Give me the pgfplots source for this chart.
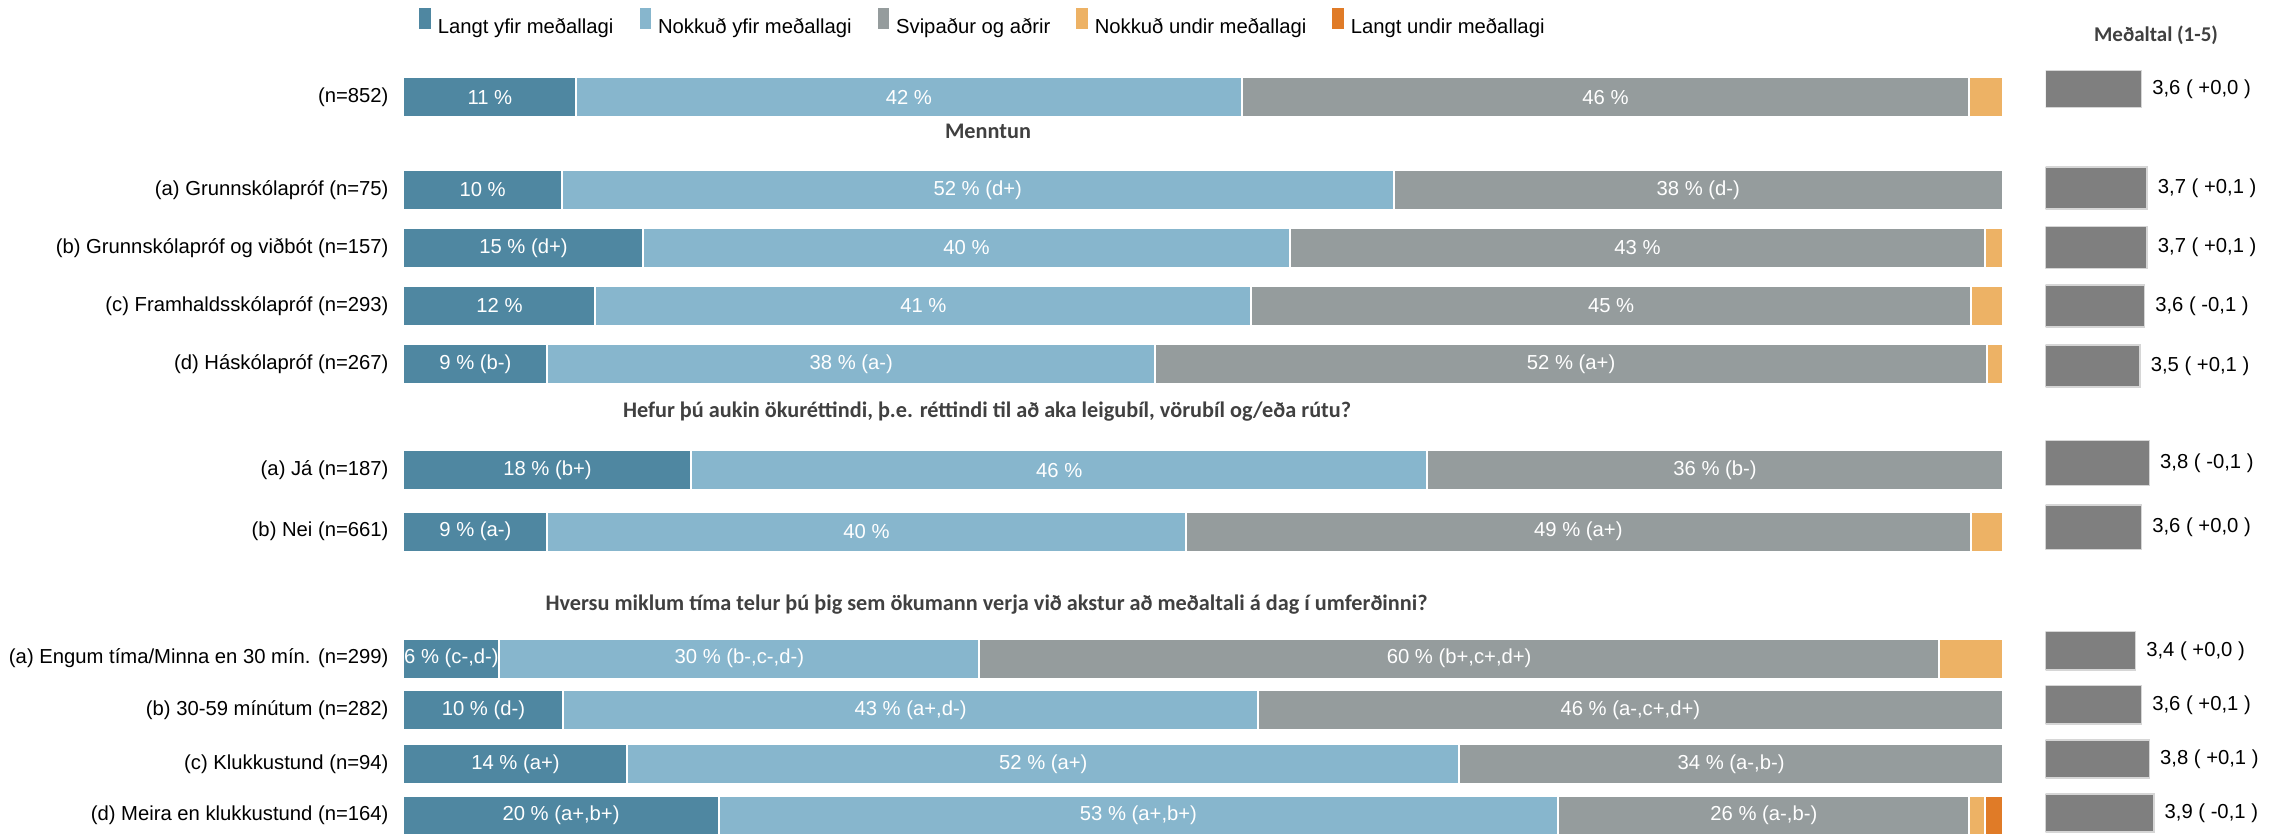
\documentclass[border=0pt]{standalone}
\usepackage{fontspec}
\setmainfont{Liberation Sans}
\newfontfamily\headfont{Carlito}
\usepackage{pgfplots}
\usepackage{pgfplotstable}
\pgfplotsset{compat=1.18}

\definecolor{c1}{HTML}{4F87A1}
\definecolor{c2}{HTML}{87B6CD}
\definecolor{c3}{HTML}{959C9D}
\definecolor{c4}{HTML}{EDB265}
\definecolor{c5}{HTML}{E07B27}
\definecolor{meanc}{HTML}{7F7F7F}
\definecolor{meanb}{HTML}{D6D6D6}
\definecolor{headc}{HTML}{404040}

\pgfplotstableread[col sep=semicolon]{
y;v1;v2;v3;v4;v5
97.3;10.8;41.6;45.5;2.1;0
190;9.9;52.0;38.1;0;0
248;15.0;40.4;43.5;1.1;0
305.7;12.0;41.0;45.0;2.0;0
364;9.0;38.0;52.0;1.0;0
470.3;18.0;46.0;36.0;0;0
531.7;9.0;39.9;49.1;2.0;0
658.5;6.0;30.0;60.0;4.0;0
710.3;10.0;43.4;46.6;0;0
764.3;14.0;52.0;34.0;0;0
815.5;19.7;52.5;25.7;1.0;1.1
}\bars

\pgfplotstableread[col sep=semicolon]{
x;y;lab
5.4;97.3;11 \%
31.6;97.3;42 \%
75.15;97.3;46 \%
4.95;190;10 \%
35.9;190;52 \% (d+)
80.95;190;38 \% (d-)
7.5;248;15 \% (d+)
35.2;248;40 \%
77.15;248;43 \%
6.0;305.7;12 \%
32.5;305.7;41 \%
75.5;305.7;45 \%
4.5;364;9 \% (b-)
28.0;364;38 \% (a-)
73.0;364;52 \% (a+)
9.0;470.3;18 \% (b+)
41.0;470.3;46 \%
82.0;470.3;36 \% (b-)
4.5;531.7;9 \% (a-)
28.95;531.7;40 \%
73.45;531.7;49 \% (a+)
3.0;658.5;6 \% (c-,d-)
21.0;658.5;30 \% (b-,c-,d-)
66.0;658.5;60 \% (b+,c+,d+)
5.0;710.3;10 \% (d-)
31.7;710.3;43 \% (a+,d-)
76.7;710.3;46 \% (a-,c+,d+)
7.0;764.3;14 \% (a+)
40.0;764.3;52 \% (a+)
83.0;764.3;34 \% (a-,b-)
9.85;815.5;20 \% (a+,b+)
45.95;815.5;53 \% (a+,b+)
85.05;815.5;26 \% (a-,b-)
}\labs

\pgfplotstableread[col sep=semicolon]{
y;m;lab
89;3.57;3,6 ( +0,0 )
}\meanA
\pgfplotstableread[col sep=semicolon]{
y;m;lab
188;3.72;3,7 ( +0,1 )
247.7;3.72;3,7 ( +0,1 )
305.8;3.65;3,6 ( -0,1 )
365.8;3.53;3,5 ( +0,1 )
}\meanB
\pgfplotstableread[col sep=semicolon]{
y;m;lab
463;3.78;3,8 ( -0,1 )
527.3;3.57;3,6 ( +0,0 )
}\meanC
\pgfplotstableread[col sep=semicolon]{
y;m;lab
650.8;3.41;3,4 ( +0,0 )
704.8;3.57;3,6 ( +0,1 )
759;3.78;3,8 ( +0,1 )
813;3.90;3,9 ( -0,1 )
}\meanD

\newcommand{\fs}{\fontsize{8.1}{9.7}\selectfont}

\begin{document}
\begin{tikzpicture}
\useasboundingbox (0,0) rectangle (911.2pt,-333.6pt);

% main stacked bars
\begin{axis}[
  at={(161.4pt,-333.6pt)}, anchor=south west,
  scale only axis, width=639.8pt, height=333.6pt,
  xmin=0, xmax=100, ymin=0, ymax=834, y dir=reverse,
  xbar stacked, bar width=40,
  axis line style={draw=none}, tick style={draw=none},
  xtick=\empty,
  ytick={97.3,190,248,305.7,364,470.3,531.7,658.5,710.3,764.3,815.5},
  yticklabels={{(n=852)},{(a) Grunnskólapróf (n=75)},{(b) Grunnskólapróf og viðbót (n=157)},{(c) Framhaldsskólapróf (n=293)},{(d) Háskólapróf (n=267)},{(a) Já (n=187)},{(b) Nei (n=661)},{(a) Engum tíma/Minna en 30 mín. (n=299)},{(b) 30-59 mínútum (n=282)},{(c) Klukkustund (n=94)},{(d) Meira en klukkustund (n=164)}},
  yticklabel style={font=\fs, inner sep=0pt, xshift=-5.8pt, text=black},
  legend columns=-1,
  legend style={at={(0.0084,0.9712)}, anchor=west, draw=none, fill=none, inner sep=0pt,
    font=\fs, /tikz/every even column/.append style={column sep=7.6pt}},
  legend image code/.code={\fill[#1] (0pt,-0.9pt) rectangle (5.4pt,8.3pt);},
  clip=false,
]
\addplot[fill=c1, draw=white, line width=0.8pt] table[x=v1,y=y]{\bars};
\addplot[fill=c2, draw=white, line width=0.8pt] table[x=v2,y=y]{\bars};
\addplot[fill=c3, draw=white, line width=0.8pt] table[x=v3,y=y]{\bars};
\addplot[fill=c4, draw=white, line width=0.8pt] table[x=v4,y=y]{\bars};
\addplot[fill=c5, draw=white, line width=0.8pt] table[x=v5,y=y]{\bars};
\legend{Langt yfir meðallagi, Nokkuð yfir meðallagi, Svipaður og aðrir, Nokkuð undir meðallagi, Langt undir meðallagi}
\end{axis}

% value labels inside the bars
\begin{axis}[
  at={(161.4pt,-333.6pt)}, anchor=south west,
  scale only axis, width=639.8pt, height=333.6pt,
  xmin=0, xmax=100, ymin=0, ymax=834, y dir=reverse,
  hide axis, clip=false,
  nodes near coords, point meta=explicit symbolic,
  every node near coord/.append style={anchor=center, inner sep=0pt, font=\fs, text=white},
]
\addplot[draw=none, mark=none] table[x=x,y=y,meta=lab]{\labs};
\end{axis}

% mean panel
\begin{axis}[
  at={(818.28pt,-333.6pt)}, anchor=south west,
  scale only axis, width=104.44pt, height=333.6pt,
  xmin=1, xmax=8, ymin=0, ymax=834, y dir=reverse,
  hide axis, xbar, bar shift=0pt,
  nodes near coords, point meta=explicit symbolic,
  every node near coord/.append style={anchor=west, inner sep=0pt, xshift=4pt, font=\fs, text=black},
]
\addplot[fill=meanc, draw=meanb, line width=0.6pt, bar width=36.7] table[x=m,y=y,meta=lab]{\meanA};
\addplot[fill=meanc, draw=meanb, line width=0.6pt, bar width=42] table[x=m,y=y,meta=lab]{\meanB};
\addplot[fill=meanc, draw=meanb, line width=0.6pt, bar width=44.6] table[x=m,y=y,meta=lab]{\meanC};
\addplot[fill=meanc, draw=meanb, line width=0.6pt, bar width=38.3] table[x=m,y=y,meta=lab]{\meanD};
\end{axis}

\begin{scope}[every node/.style={font={\headfont\bfseries\fontsize{8.9}{10.7}\selectfont}, text=headc}]
\node at (395.2pt,-52.68pt) {Menntun};
\node at (394.8pt,-164.68pt) {Hefur þú aukin ökuréttindi, þ.e. réttindi til að aka leigubíl, vörubíl og/eða rútu?};
\node at (394.6pt,-241.72pt) {Hversu miklum tíma telur þú þig sem ökumann verja við akstur að meðaltali á dag í umferðinni?};
\end{scope}
\node[font={\headfont\bfseries\fontsize{8.4}{10}\selectfont}, text=headc] at (862.4pt,-14.28pt) {Meðaltal (1-5)};
\end{tikzpicture}
\end{document}
